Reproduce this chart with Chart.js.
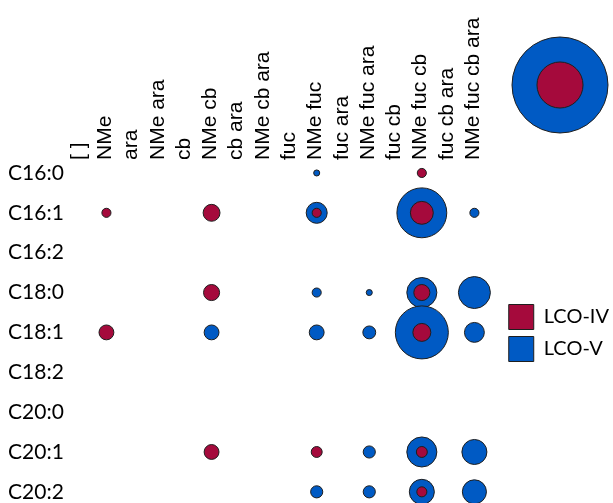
<!DOCTYPE html>
<html>
<head>
<meta charset="utf-8">
<script src="https://cdn.jsdelivr.net/npm/chart.js@4.4.1/dist/chart.umd.min.js"></script>
<style>
  html, body { margin: 0; padding: 0; background: #fff; }
</style>
</head>
<body>
<canvas id="lcoChart" width="613" height="503"></canvas>
<script>
// Decorações (colunas) e cadeias acila (linhas)
var decorations = ['[ ]', 'NMe', 'ara', 'NMe ara', 'cb', 'NMe cb', 'cb ara', 'NMe cb ara',
    'fuc', 'NMe fuc', 'fuc ara', 'NMe fuc ara', 'fuc cb', 'NMe fuc cb', 'fuc cb ara', 'NMe fuc cb ara'];
var acylChains = ['C16:0', 'C16:1', 'C16:2', 'C18:0', 'C18:1', 'C18:2', 'C20:0', 'C20:1', 'C20:2'];
var seriesNames = ['LCO-IV', 'LCO-V'];

// Abundância relativa (%) por cadeia (linha) e decoração (coluna)
var lcoIV = [
    [0, 0,   0, 0, 0, 0,   0, 0, 0, 0,   0, 0,   0, 0.9, 0, 0],
    [0, 0.9, 0, 0, 0, 3.1, 0, 0, 0, 0.9, 0, 0,   0, 5.7, 0, 0],
    [0, 0,   0, 0, 0, 0,   0, 0, 0, 0,   0, 0,   0, 0,   0, 0],
    [0, 0,   0, 0, 0, 2.8, 0, 0, 0, 0,   0, 0,   0, 2.8, 0, 0],
    [0, 2.4, 0, 0, 0, 0,   0, 0, 0, 0,   0, 0,   0, 3.5, 0, 0],
    [0, 0,   0, 0, 0, 0,   0, 0, 0, 0,   0, 0,   0, 0,   0, 0],
    [0, 0,   0, 0, 0, 0,   0, 0, 0, 0,   0, 0,   0, 0,   0, 0],
    [0, 0,   0, 0, 0, 2.4, 0, 0, 0, 1.3, 0, 0,   0, 1.3, 0, 0],
    [0, 0,   0, 0, 0, 0,   0, 0, 0, 0,   0, 0,   0, 1.1, 0, 0]
];
var lcoV = [
    [0, 0, 0, 0, 0, 0,   0, 0, 0, 0.4, 0, 0,   0, 0,    0, 0],
    [0, 0, 0, 0, 0, 0,   0, 0, 0, 4.8, 0, 0,   0, 27,   0, 0.9],
    [0, 0, 0, 0, 0, 0,   0, 0, 0, 0,   0, 0,   0, 0,    0, 0],
    [0, 0, 0, 0, 0, 0.1, 0, 0, 0, 0.9, 0, 0.4, 0, 9.8,  0, 11.1],
    [0, 0, 0, 0, 0, 2.4, 0, 0, 0, 2.4, 0, 1.8, 0, 30.5, 0, 4.3],
    [0, 0, 0, 0, 0, 0,   0, 0, 0, 0,   0, 0,   0, 0,    0, 0],
    [0, 0, 0, 0, 0, 0,   0, 0, 0, 0,   0, 0,   0, 0,    0, 0],
    [0, 0, 0, 0, 0, 0,   0, 0, 0, 0,   0, 1.6, 0, 9.8,  0, 6.8],
    [0, 0, 0, 0, 0, 0,   0, 0, 0, 1.6, 0, 1.6, 0, 6.8,  0, 6.3]
];
// Bolhas de referência de tamanho (LCO-IV, LCO-V)
var keyValues = [23, 100];

var colors = ['#A50A3C', '#005AC4'];
var edgeColor = '#1E1E1E';

// Área da bolha proporcional ao valor
function bubbleRadius(v) {
    return 4.8 * Math.sqrt(v);
}

function toPoints(matrix) {
    var pts = [];
    matrix.forEach(function (row, i) {
        row.forEach(function (v, j) {
            if (v > 0) pts.push({ x: j, y: i, r: bubbleRadius(v) });
        });
    });
    return pts;
}

// Bolha de escala desenhada no canto superior direito
var sizeKey = {
    id: 'sizeKey',
    afterDraw: function (chart) {
        var ctx = chart.ctx;
        var cx = 560, cy = 85;
        ctx.save();
        ctx.lineWidth = 1;
        ctx.strokeStyle = edgeColor;
        [1, 0].forEach(function (k) {
            ctx.beginPath();
            ctx.arc(cx, cy, bubbleRadius(keyValues[k]), 0, Math.PI * 2);
            ctx.fillStyle = colors[k];
            ctx.fill();
            ctx.stroke();
        });
        ctx.restore();
    }
};

Chart.defaults.font.family = 'Lato, sans-serif';
Chart.defaults.color = '#000';

var ctx = document.getElementById('lcoChart');
var myChart = new Chart(ctx, {
    type: 'bubble',
    data: {
        datasets: [{
            label: seriesNames[0],
            data: toPoints(lcoIV),
            backgroundColor: colors[0],
            borderColor: edgeColor,
            borderWidth: 1,
            clip: false
        }, {
            label: seriesNames[1],
            data: toPoints(lcoV),
            backgroundColor: colors[1],
            borderColor: edgeColor,
            borderWidth: 1,
            clip: false
        }]
    },
    options: {
        responsive: false,
        animation: false,
        layout: {
            autoPadding: false,
            padding: { left: 8, right: -6, top: 0, bottom: 0 }
        },
        scales: {
            x: {
                type: 'linear',
                position: 'top',
                min: -0.5,
                max: 16.04,
                grid: { display: false },
                border: { display: false },
                afterBuildTicks: function (scale) {
                    scale.ticks = decorations.map(function (d, i) { return { value: i }; });
                },
                afterFit: function (scale) {
                    scale.height = 163;
                },
                ticks: {
                    autoSkip: false,
                    minRotation: 90,
                    maxRotation: 90,
                    padding: -5,
                    labelOffset: 24, // recentra os rótulos girados no topo
                    font: { family: '"Liberation Sans", Arial, sans-serif', size: 21 },
                    callback: function (v) { return decorations[v]; }
                }
            },
            y: {
                type: 'linear',
                reverse: true,
                min: -0.25,
                max: 8.28,
                grid: { display: false },
                border: { display: false },
                afterBuildTicks: function (scale) {
                    scale.ticks = acylChains.map(function (c, i) { return { value: i }; });
                },
                afterFit: function (scale) {
                    scale.width = 59;
                    // sem margem extra abaixo da última linha
                    scale.paddingTop = 0;
                    scale.paddingBottom = 0;
                },
                ticks: {
                    crossAlign: 'far',
                    padding: 0,
                    font: { size: 21 },
                    callback: function (v) { return acylChains[v]; }
                }
            }
        },
        plugins: {
            legend: {
                position: 'right',
                fullSize: false,
                labels: {
                    boxWidth: 25,
                    boxHeight: 25,
                    padding: 7,
                    font: { size: 20 }
                }
            },
            tooltip: { enabled: false }
        }
    },
    plugins: [sizeKey]
});
</script>
</body>
</html>
